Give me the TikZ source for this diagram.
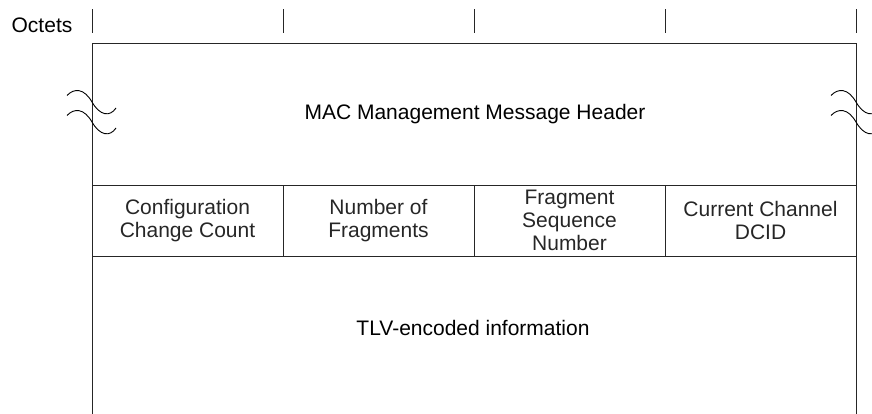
\documentclass[tikz,border=0pt]{standalone}
\usepackage{fontspec}
\setmainfont{Liberation Sans}
\begin{document}
\begin{tikzpicture}[x=1pt,y=-1pt,
  rule/.style={line width=0.9pt,black!85},
  cell/.style={draw,rule,minimum width=191pt,minimum height=70.5pt,inner sep=0pt,align=center,anchor=center},
  txt/.style={inner sep=0pt,align=center,anchor=center},
  wave/.style={line width=0.9pt,black}]
\path[use as bounding box,clip] (0,0) rectangle (872,414);
\tikzset{every node/.append style={font=\fontsize{21}{23}\selectfont}}
% top ticks
\foreach \i/\x in {0/92,1/283,2/474,3/665,4/856}{
  \coordinate (t\i a) at (\x,9.5);
  \coordinate (t\i b) at (\x,33.5);
  \draw[rule] (t\i a) -- (t\i b);
}
\node[txt] (oct) at (42,25.5) {Octets};
% frame
\coordinate (tl) at (92,43.5);
\coordinate (tr) at (856,43.5);
\coordinate (bl) at (92,414);
\coordinate (br) at (856,414);
\draw[rule] (bl) -- (tl) -- (tr) -- (br);
% header
\node[txt] (hdr) at (475,114) {MAC Management Message Header};
% fields
\node[cell] (f1) at (187.5,220.75) {Configuration\\Change Count};
\node[cell] (f2) at (378.5,220.75) {Number of\\Fragments};
\node[cell] (f3) at (569.5,220.75) {Fragment\\Sequence\\Number};
\node[cell] (f4) at (760.5,220.75) {Current Channel\\DCID};
% TLV
\node[txt] (tlv) at (473,328) {TLV-encoded information};
% break marks
\foreach \dx in {0,764}{
  \foreach \dy in {0,20}{
    \draw[wave] (67+\dx,95.5+\dy) .. controls (74+\dx,88+\dy) and (84+\dx,88+\dy) .. (92+\dx,102+\dy)
      .. controls (100+\dx,116+\dy) and (110+\dx,117+\dy) .. (116+\dx,108+\dy);
  }
}
\end{tikzpicture}
\end{document}
